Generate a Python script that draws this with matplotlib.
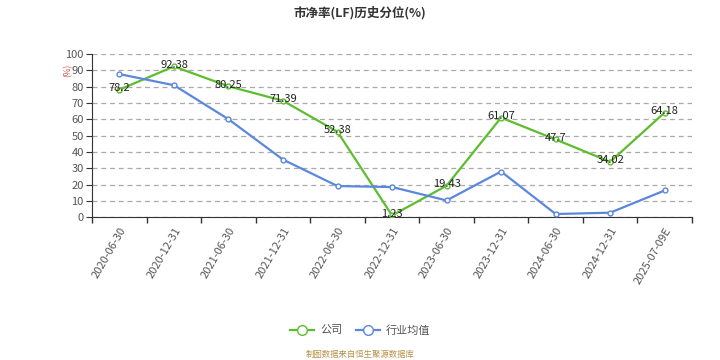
import matplotlib
matplotlib.use('Agg')
import matplotlib.pyplot as plt
import numpy as np
from matplotlib.lines import Line2D

plt.rcParams['font.family'] = ['Noto Sans CJK SC', 'DejaVu Sans']

dates = ['2020-06-30', '2020-12-31', '2021-06-30', '2021-12-31', '2022-06-30',
         '2022-12-31', '2023-06-30', '2023-12-31', '2024-06-30', '2024-12-31',
         '2025-07-09E']
company = [78.2, 92.38, 80.25, 71.39, 52.38, 1.23, 19.43, 61.07, 47.7, 34.02, 64.18]
industry = [87.7, 80.9, 60.1, 35.4, 19.2, 18.6, 10.4, 28.1, 2.1, 2.9, 16.5]

GREEN = '#5dbd2e'
BLUE = '#5b87de'
AXIS = '#333333'
TEXT = '#555555'

fig = plt.figure(figsize=(7.2, 3.6), dpi=100)
ax = fig.add_axes([0.128, 0.396, 0.833, 0.454])

x = np.arange(len(dates))
ax.plot(x, company, color=GREEN, lw=1.6, marker='o', ms=3.5,
        mfc='white', mec=GREEN, mew=1, zorder=3)
ax.plot(x, industry, color=BLUE, lw=1.6, marker='o', ms=3.5,
        mfc='white', mec=BLUE, mew=1, zorder=3)

for xi, v in zip(x, company):
    ax.text(xi, v + 1, f'{v:g}', ha='center', va='center', fontsize=8,
            color='#222222', zorder=4)

ax.set_xlim(-0.5, len(dates) - 0.5)
ax.set_ylim(0, 100)
ax.set_yticks(np.arange(0, 101, 10))
ax.yaxis.grid(True, color='#aaaaaa', linestyle=(0, (4, 3)), lw=0.9)
ax.set_axisbelow(True)

ax.set_xticks(x)
ax.set_xticklabels(dates, rotation=60, ha='right', rotation_mode='anchor',
                   fontsize=8, color=TEXT)
ax.tick_params(axis='x', which='major', length=0, pad=6)
ax.set_xticks(np.arange(-0.5, len(dates)), minor=True)
ax.tick_params(axis='x', which='minor', length=4, color=AXIS, width=1)
ax.tick_params(axis='y', length=4, color=AXIS, labelsize=8, labelcolor=TEXT, pad=2)

for side in ('top', 'right'):
    ax.spines[side].set_visible(False)
ax.spines['left'].set_color(AXIS)
ax.spines['bottom'].set_color(AXIS)

fig.text(0.095, 0.805, '(%)', rotation=90, color='#d05050', fontsize=6,
         ha='center', va='center')

fig.text(0.5, 0.965, '市净率(LF)历史分位(%)', ha='center', va='center',
         fontsize=9, fontweight='bold', color='#333333')

handles = [
    Line2D([0], [0], color=GREEN, lw=1.6, marker='o', ms=7, mfc='white', mec=GREEN),
    Line2D([0], [0], color=BLUE, lw=1.6, marker='o', ms=7, mfc='white', mec=BLUE),
]
fig.legend(handles, ['公司', '行业均值'], loc='center', bbox_to_anchor=(0.5, 0.083),
           ncol=2, frameon=False, fontsize=8, handlelength=2.2,
           columnspacing=1.2, handletextpad=0.5, labelcolor=TEXT)

fig.text(0.5, 0.015, '制图数据来自恒生聚源数据库', ha='center', va='center',
         fontsize=6, color='#b8914a')

fig.savefig('out.png', dpi=100)
